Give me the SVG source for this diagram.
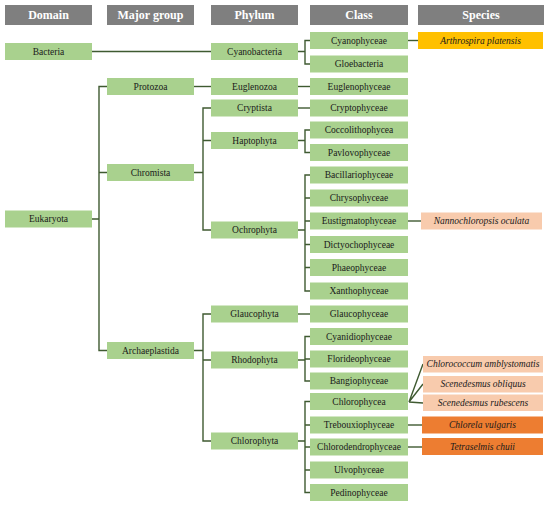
<svg xmlns="http://www.w3.org/2000/svg" width="550" height="505" viewBox="0 0 550 505">
<style>
text{font-family:"Liberation Serif","Times New Roman","DejaVu Serif",serif;text-anchor:middle;dominant-baseline:central}
.hd rect{fill:#7f7f7f}
.hd text{fill:#fff;font-size:12px;font-weight:bold}
.n rect{fill:#a9d18e}
.n text,.s text{fill:#1a1a1a;font-size:9.5px}
.s text{font-style:italic}
.gold rect{fill:#ffc000}
.pale rect{fill:#f8cbad}
.org rect{fill:#ed7d31}
#connectors path{fill:none;stroke:#3f5a31;stroke-width:1.4}
</style>
<rect width="550" height="505" fill="#fff"/>
<g id="headers" class="hd">
<rect x="5" y="5" width="87" height="20"/><text x="48.5" y="15">Domain</text>
<rect x="107" y="5" width="87" height="20"/><text x="150.5" y="15">Major group</text>
<rect x="211" y="5" width="87" height="20"/><text x="254.5" y="15">Phylum</text>
<rect x="310" y="5" width="98" height="20"/><text x="359" y="15">Class</text>
<rect x="418" y="5" width="126" height="20"/><text x="481" y="15">Species</text>
</g>
<g id="connectors">
<path d="M92 51.5H211"/>
<path d="M92 219H99M107 86.5H99V350.5H107M99 172.5H107"/>
<path d="M194 86.5H211"/>
<path d="M194 172.5H203M211 108H203V230H211M203 140.5H211"/>
<path d="M194 350.5H203M211 314H203V441H211M203 360H211"/>
<path d="M298 51.5H305M310 40.5H305V64H310"/>
<path d="M298 86.5H310"/>
<path d="M298 108H310"/>
<path d="M298 140.5H305M310 130H305V152.5H310"/>
<path d="M298 230H305M310 175H305V291H310M305 198H310M305 221H310M305 244.5H310M305 267.5H310"/>
<path d="M298 314H310"/>
<path d="M298 360H305M310 336.5H305V381H310M305 359H310"/>
<path d="M298 441H305M310 401.5H305V492.5H310M305 425H310M305 447H310M305 470H310"/>
<path d="M408 40.5H418"/>
<path d="M408 221H421"/>
<path d="M409 402L423 364M409 402L423 384M409 402L423 403"/>
<path d="M408 425H422"/>
<path d="M408 447H422"/>
</g>
<g id="bacteria" class="n"><rect x="5" y="43" width="87" height="17"/><text x="48.5" y="51.5">Bacteria</text></g>
<g id="eukaryota" class="n"><rect x="5" y="210.5" width="87" height="17"/><text x="48.5" y="219">Eukaryota</text></g>
<g id="protozoa" class="n"><rect x="107" y="78" width="87" height="17"/><text x="150.5" y="86.5">Protozoa</text></g>
<g id="chromista" class="n"><rect x="107" y="164" width="87" height="17"/><text x="150.5" y="172.5">Chromista</text></g>
<g id="archaeplastida" class="n"><rect x="107" y="342" width="87" height="17"/><text x="150.5" y="350.5">Archaeplastida</text></g>
<g id="cyanobacteria" class="n"><rect x="211" y="43" width="87" height="17"/><text x="254.5" y="51.5">Cyanobacteria</text></g>
<g id="euglenozoa" class="n"><rect x="211" y="78" width="87" height="17"/><text x="254.5" y="86.5">Euglenozoa</text></g>
<g id="cryptista" class="n"><rect x="211" y="99.5" width="87" height="17"/><text x="254.5" y="108">Cryptista</text></g>
<g id="haptophyta" class="n"><rect x="211" y="132" width="87" height="17"/><text x="254.5" y="140.5">Haptophyta</text></g>
<g id="ochrophyta" class="n"><rect x="211" y="221.5" width="87" height="17"/><text x="254.5" y="230">Ochrophyta</text></g>
<g id="glaucophyta" class="n"><rect x="211" y="305.5" width="87" height="17"/><text x="254.5" y="314">Glaucophyta</text></g>
<g id="rhodophyta" class="n"><rect x="211" y="351.5" width="87" height="17"/><text x="254.5" y="360">Rhodophyta</text></g>
<g id="chlorophyta" class="n"><rect x="211" y="432.5" width="87" height="17"/><text x="254.5" y="441">Chlorophyta</text></g>
<g id="cyanophyceae" class="n"><rect x="310" y="32" width="98" height="17"/><text x="359" y="40.5">Cyanophyceae</text></g>
<g id="gloebacteria" class="n"><rect x="310" y="55.5" width="98" height="17"/><text x="359" y="64">Gloebacteria</text></g>
<g id="euglenophyceae" class="n"><rect x="310" y="78" width="98" height="17"/><text x="359" y="86.5">Euglenophyceae</text></g>
<g id="cryptophyceae" class="n"><rect x="310" y="99.5" width="98" height="17"/><text x="359" y="108">Cryptophyceae</text></g>
<g id="coccolithophycea" class="n"><rect x="310" y="121.5" width="98" height="17"/><text x="359" y="130">Coccolithophycea</text></g>
<g id="pavlovophyceae" class="n"><rect x="310" y="144" width="98" height="17"/><text x="359" y="152.5">Pavlovophyceae</text></g>
<g id="bacillariophyceae" class="n"><rect x="310" y="166.5" width="98" height="17"/><text x="359" y="175">Bacillariophyceae</text></g>
<g id="chrysophyceae" class="n"><rect x="310" y="189.5" width="98" height="17"/><text x="359" y="198">Chrysophyceae</text></g>
<g id="eustigmatophyceae" class="n"><rect x="310" y="212.5" width="98" height="17"/><text x="359" y="221">Eustigmatophyceae</text></g>
<g id="dictyochophyceae" class="n"><rect x="310" y="236" width="98" height="17"/><text x="359" y="244.5">Dictyochophyceae</text></g>
<g id="phaeophyceae" class="n"><rect x="310" y="259" width="98" height="17"/><text x="359" y="267.5">Phaeophyceae</text></g>
<g id="xanthophyceae" class="n"><rect x="310" y="282.5" width="98" height="17"/><text x="359" y="291">Xanthophyceae</text></g>
<g id="glaucophyceae" class="n"><rect x="310" y="305.5" width="98" height="17"/><text x="359" y="314">Glaucophyceae</text></g>
<g id="cyanidiophyceae" class="n"><rect x="310" y="328" width="98" height="17"/><text x="359" y="336.5">Cyanidiophyceae</text></g>
<g id="florideophyceae" class="n"><rect x="310" y="350.5" width="98" height="17"/><text x="359" y="359">Florideophyceae</text></g>
<g id="bangiophyceae" class="n"><rect x="310" y="372.5" width="98" height="17"/><text x="359" y="381">Bangiophyceae</text></g>
<g id="chlorophycea" class="n"><rect x="310" y="393" width="98" height="17"/><text x="359" y="401.5">Chlorophycea</text></g>
<g id="trebouxiophyceae" class="n"><rect x="310" y="416.5" width="98" height="17"/><text x="359" y="425">Trebouxiophyceae</text></g>
<g id="chlorodendrophyceae" class="n"><rect x="310" y="438.5" width="98" height="17"/><text x="359" y="447">Chlorodendrophyceae</text></g>
<g id="ulvophyceae" class="n"><rect x="310" y="461.5" width="98" height="17"/><text x="359" y="470">Ulvophyceae</text></g>
<g id="pedinophyceae" class="n"><rect x="310" y="484" width="98" height="17"/><text x="359" y="492.5">Pedinophyceae</text></g>
<g id="arthrospira" class="s gold"><rect x="418" y="32" width="125" height="17"/><text x="480.5" y="40.5">Arthrospira platensis</text></g>
<g id="nannochloropsis" class="s pale"><rect x="421" y="212.5" width="121" height="17"/><text x="481.5" y="221">Nannochloropsis oculata</text></g>
<g id="chlorococcum" class="s pale"><rect x="423" y="356" width="120" height="16.5"/><text x="483" y="364.3">Chlorococcum amblystomatis</text></g>
<g id="scenedesmus-obliquus" class="s pale"><rect x="423" y="376" width="120" height="16.5"/><text x="483" y="384.3">Scenedesmus obliquus</text></g>
<g id="scenedesmus-rubescens" class="s pale"><rect x="423" y="394.5" width="120" height="16.5"/><text x="483" y="402.8">Scenedesmus rubescens</text></g>
<g id="chlorela" class="s org"><rect x="422" y="416.5" width="121" height="17"/><text x="482.5" y="425">Chlorela vulgaris</text></g>
<g id="tetraselmis" class="s org"><rect x="422" y="438" width="121" height="17"/><text x="482.5" y="446.5">Tetraselmis chuii</text></g>
</svg>
